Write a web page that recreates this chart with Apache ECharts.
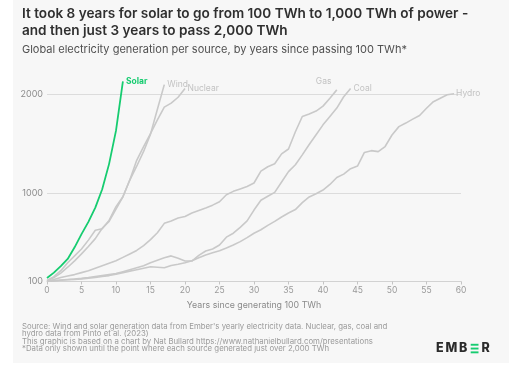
<!DOCTYPE html>
<html>
<head>
<meta charset="utf-8">
<script src="https://cdn.jsdelivr.net/npm/echarts@6/dist/echarts.min.js"></script>
<style>html,body{margin:0;padding:0;background:#fff}#c{width:521px;height:367px}</style>
</head>
<body>
<div id="c"></div>
<script>
// Values in TWh, index = years since passing 100 TWh
const solar = [135, 190, 256, 329, 447, 581, 705, 850, 1036, 1294, 1631, 2131];
const wind = [104, 140, 185, 245, 310, 380, 455, 535, 640, 710, 835, 960, 1130, 1270, 1420, 1596, 1848, 2098];
const nuclear = [110, 150, 210, 290, 360, 430, 520, 620, 635, 720, 860, 960, 1130, 1330, 1470, 1600, 1740, 1870, 1910, 1970, 2060];
const gas = [100, 120, 140, 155, 170, 190, 210, 235, 260, 285, 310, 345, 380, 415, 465, 525, 595, 690, 715, 745, 760, 795, 820, 845, 875, 910, 980, 1015, 1040, 1065, 1100, 1220, 1265, 1295, 1395, 1445, 1620, 1775, 1800, 1830, 1880, 1960, 2045];
const coal = [100, 108, 115, 120, 125, 132, 140, 150, 160, 170, 180, 200, 220, 240, 260, 290, 315, 340, 360, 335, 308, 308, 365, 410, 430, 470, 550, 590, 650, 715, 825, 925, 965, 1005, 1110, 1215, 1285, 1385, 1490, 1590, 1690, 1775, 1860, 1975, 2060];
const hydro = [100, 106, 112, 117, 122, 127, 133, 140, 150, 160, 175, 190, 205, 220, 235, 250, 245, 240, 262, 275, 290, 310, 340, 370, 392, 412, 440, 471, 505, 545, 590, 625, 670, 710, 755, 795, 830, 900, 958, 990, 1028, 1085, 1155, 1190, 1245, 1272, 1410, 1428, 1418, 1470, 1587, 1672, 1708, 1748, 1785, 1858, 1925, 1960, 1995, 2005];
const yLabels = [100, 1000, 2000];
const gridValues = [1000, 2000];

const FONT = 'Inter, "Noto Sans", sans-serif';
const GRAY = '#c9c9c9';
const GREEN = '#16cc70';
const toPts = arr => arr.map((v, i) => [i, v]);

function grayLine(name, data, labelOpts) {
  return {
    name, type: 'line', data: toPts(data), symbol: 'none', silent: true, z: 2,
    lineStyle: { color: GRAY, width: 1.6 },
    endLabel: Object.assign({ show: true, formatter: name, color: '#c2c2c2', fontSize: 8.5, fontFamily: FONT, distance: 3 }, labelOpts || {})
  };
}

const logoLetter = (ch, x) => ({ type: 'text', z: 10, style: { x, y: 348.5, text: ch, font: '800 12.5px ' + FONT, fill: '#2b2b2b', textAlign: 'left', textVerticalAlign: 'middle' } });

const chart = echarts.init(document.getElementById('c'), null, { renderer: 'canvas' });
chart.setOption({
  backgroundColor: '#ffffff',
  animation: false,
  grid: { left: 47, right: 60, top: 74.6, bottom: 85.5 },
  xAxis: {
    type: 'value', min: 0, max: 60, interval: 5,
    name: 'Years since generating 100 TWh', nameLocation: 'middle', nameGap: 19.5,
    nameTextStyle: { color: '#8a8a8a', fontSize: 8.8, fontFamily: FONT },
    axisLine: { lineStyle: { color: '#d2d2d2', width: 1.2 } },
    axisTick: { show: true, length: 3, lineStyle: { color: '#c4c4c4' } },
    axisLabel: { color: '#9a9a9a', fontSize: 8.5, fontFamily: FONT, margin: 4 },
    splitLine: { show: false }
  },
  yAxis: {
    type: 'value', min: 100, max: 2200, interval: 100,
    axisLine: { show: false }, axisTick: { show: false },
    axisLabel: { color: '#8c8c8c', fontSize: 9, fontFamily: FONT, margin: 4,
      formatter: v => yLabels.indexOf(v) >= 0 ? String(v) : '' },
    splitLine: { show: false }
  },
  graphic: [
    { type: 'rect', z: -10, shape: { x: 13, y: 0, width: 496, height: 363 }, style: { fill: '#f7f7f7' } },
    { type: 'text', z: 10, style: { x: 22, y: 5.8, text: 'It took 8 years for solar to go from 100 TWh to 1,000 TWh of power -\nand then just 3 years to pass 2,000 TWh',
      font: '600 13.6px ' + FONT, fill: '#2f2f2f', lineHeight: 16.9, textVerticalAlign: 'top' } },
    { type: 'text', z: 10, style: { x: 22, y: 50, text: 'Global electricity generation per source, by years since passing 100 TWh*',
      font: '11px ' + FONT, fill: '#505050', textVerticalAlign: 'middle' } },
    { type: 'text', z: 10, style: { x: 22, y: 323, text: "Source: Wind and solar generation data from Ember's yearly electricity data. Nuclear, gas, coal and\nhydro data from Pinto et al. (2023)\nThis graphic is based on a chart by Nat Bullard https://www.nathanielbullard.com/presentations\n*Data only shown until the point where each source generated just over 2,000 TWh",
      font: '7.8px ' + FONT, fill: '#9a9a9a', lineHeight: 7.4, textVerticalAlign: 'top' } },
    logoLetter('E', 436),
    logoLetter('M', 445.5),
    logoLetter('B', 459),
    { type: 'rect', z: 10, shape: { x: 470.7, y: 343.8, width: 7.8, height: 1.9 }, style: { fill: GREEN } },
    { type: 'rect', z: 10, shape: { x: 470.7, y: 347.6, width: 7.8, height: 1.9 }, style: { fill: GREEN } },
    { type: 'rect', z: 10, shape: { x: 470.7, y: 351.4, width: 7.8, height: 1.9 }, style: { fill: GREEN } },
    logoLetter('R', 481.5)
  ],
  series: [
    Object.assign(grayLine('Hydro', hydro, { distance: 2 }), {
      markLine: { silent: true, z: 1, symbol: 'none', label: { show: false },
        lineStyle: { color: '#dcdcdc', width: 1.2, type: 'solid' },
        data: gridValues.map(v => ({ yAxis: v })) }
    }),
    grayLine('Coal', coal),
    grayLine('Gas', gas, { offset: [-24, -8.5] }),
    grayLine('Nuclear', nuclear, { distance: 2.5 }),
    grayLine('Wind', wind),
    {
      name: 'Solar', type: 'line', data: toPts(solar), symbol: 'none', silent: true, z: 3,
      lineStyle: { color: GREEN, width: 1.8 },
      endLabel: { show: true, formatter: 'Solar', color: GREEN, fontSize: 8.5, fontWeight: 'bold', fontFamily: FONT, distance: 3 }
    }
  ]
});
</script>
</body>
</html>
